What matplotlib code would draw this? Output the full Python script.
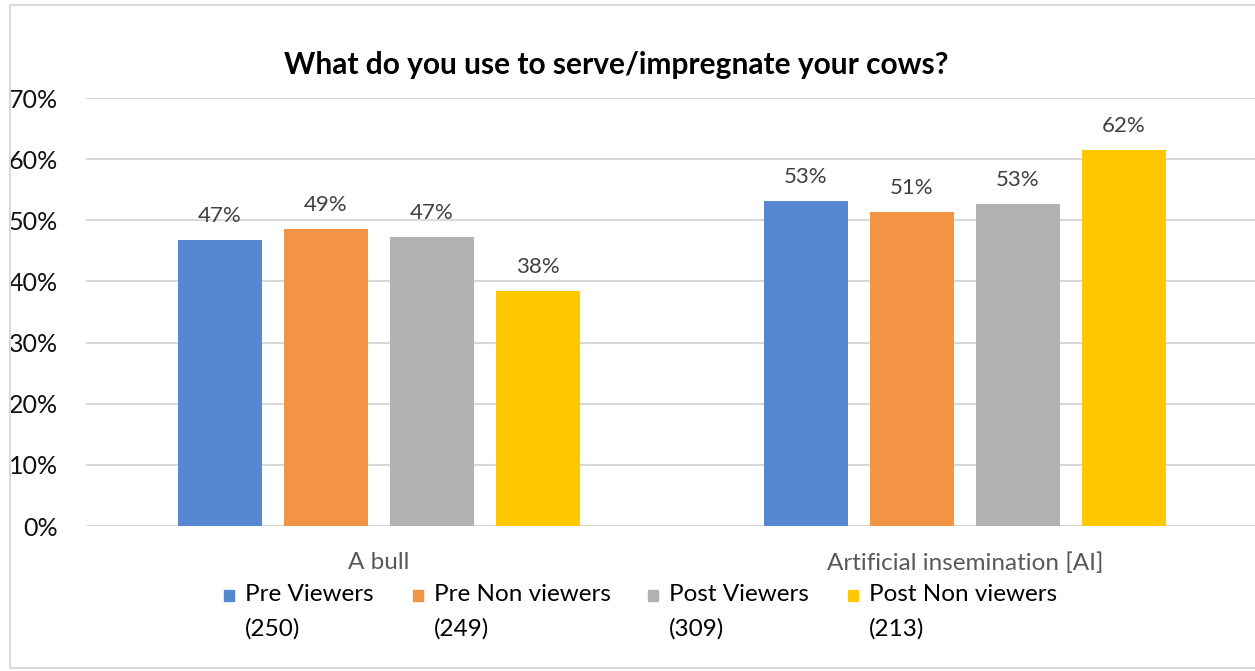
import numpy as np
import matplotlib
matplotlib.use('Agg')
import matplotlib.pyplot as plt
from matplotlib.patches import Rectangle

plt.rcParams['font.family'] = ['Lato', 'DejaVu Sans']

categories = ['A bull', 'Artificial insemination [AI]']
series = ['Pre Viewers\n(250)', 'Pre Non viewers\n(249)', 'Post Viewers\n(309)', 'Post Non viewers\n(213)']
values = [
    [46.8, 53.2],   # Pre Viewers
    [48.6, 51.4],   # Pre Non viewers
    [47.3, 52.7],   # Post Viewers
    [38.4, 61.5],   # Post Non viewers
]
colors = ['#5588d0', '#f29443', '#b2b2b2', '#ffc800']
yticks = [0, 10, 20, 30, 40, 50, 60, 70]

fig = plt.figure(figsize=(12.55, 6.71), dpi=100)
W, H = 1255, 671

# outer chart border
fig.patches.append(Rectangle((10 / W, 3 / H), 1.2, 1 - 8 / H, transform=fig.transFigure,
                             fill=False, edgecolor='#d9d9d9', lw=1.5))

ax = fig.add_axes([86 / W, 1 - 526 / H, 1172 / W, 428 / H])

x = np.arange(len(categories))
width = 0.143
step = 0.181
for i, (s, vals, c) in enumerate(zip(series, values, colors)):
    pos = x + (i - 1.5) * step
    bars = ax.bar(pos, vals, width, color=c, zorder=3)
    for b, v in zip(bars, vals):
        ax.text(b.get_x() + b.get_width() / 2, v + 2.3, f'{v:.0f}%', ha='center', va='bottom',
                fontsize=16, color='#404040')

ax.set_xlim(-0.5, 1.5)
ax.set_ylim(0, 70)
ax.set_yticks(yticks)
ax.set_yticklabels([f'{t}%' for t in yticks], fontsize=18, color='#111111')
ax.yaxis.grid(True, color='#d9d9d9', lw=1.5, zorder=0)
ax.set_axisbelow(True)
ax.set_xticks(x)
ax.set_xticklabels(categories, fontsize=17.5, color='#595959')
ax.tick_params(axis='y', length=0, pad=20)
ax.tick_params(axis='x', length=0, pad=19)
for sp in ax.spines.values():
    sp.set_visible(False)
ax.axhline(0, color='#d9d9d9', lw=1.5, zorder=1)

fig.text(616 / W, 1 - 65 / H, 'What do you use to serve/impregnate your cows?', ha='center', va='center',
         fontsize=21.5, fontweight='bold', color='black')

# legend
leg_x = [224, 413, 648, 848]
for lx, s, c in zip(leg_x, series, colors):
    fig.patches.append(Rectangle((lx / W, 1 - 601 / H), 10 / W, 11 / H, transform=fig.transFigure,
                                 color=c))
    fig.text((lx + 21) / W, 1 - 584 / H, s, ha='left', va='top', fontsize=17.5, color='black',
             linespacing=1.75)

fig.savefig('out.png', dpi=100)
